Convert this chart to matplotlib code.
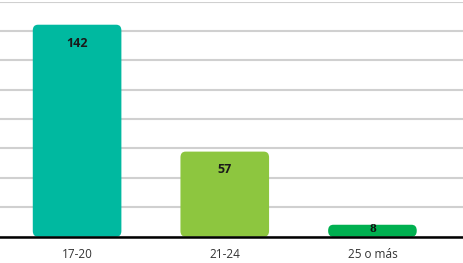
import matplotlib
matplotlib.use("Agg")
import matplotlib.pyplot as plt
from matplotlib.patches import FancyBboxPatch

categories = ["17-20", "21-24", "25 o más"]
values = [142, 57, 8]
colors = ["#00B9A0", "#8DC63F", "#00B050"]
yticks = [0, 19.7, 39.4, 59.1, 78.8, 98.4, 118.1, 137.8, 157.5]

plt.rcParams['font.family'] = ['Open Sans', 'DejaVu Sans']
fig = plt.figure(figsize=(4.64, 2.63), dpi=100)
ax = fig.add_axes([0, 0.1, 1, 0.894])
ax.set_xlim(-0.522, 2.62)
ax.set_ylim(0, 157.5)

bars = ax.bar(range(len(values)), values, width=0.6, color=colors, zorder=2)
for b, c in zip(bars, colors):
    x, y = b.get_x(), b.get_y()
    w, h = b.get_width(), b.get_height()
    b.set_visible(False)
    p = FancyBboxPatch((x, y), w, h,
                       boxstyle="round,pad=0,rounding_size=0.035",
                       mutation_aspect=110, facecolor=c, edgecolor='none', zorder=2)
    ax.add_patch(p)

label_offsets_px = [-19, -17.5, None]
for i, v in enumerate(values):
    if label_offsets_px[i] is not None:
        ax.annotate(str(v), (i, v), xytext=(0, label_offsets_px[i] * 0.72),
                    textcoords='offset points', ha='center', va='center',
                    fontsize=9, fontweight='bold', color='#1a1a1a', zorder=3)
    else:
        ax.annotate(str(v), (i, 0), xytext=(0, 8 * 0.72),
                    textcoords='offset points', ha='center', va='center',
                    fontsize=9.5, fontweight='bold', color='#111111', zorder=3,
                    family=['Liberation Serif', 'DejaVu Serif'])

ax.set_yticks(yticks)
ax.yaxis.grid(True, color='#d0d0d0', linewidth=1.5, zorder=0)
ax.set_axisbelow(True)
ax.tick_params(axis='y', left=False, labelleft=False)
ax.set_xticks(range(len(categories)))
ax.set_xticklabels(categories, fontsize=8.5, color='#333333')
ax.tick_params(axis='x', length=0, pad=8)
for s in ['top', 'right', 'left']:
    ax.spines[s].set_visible(False)
ax.spines['bottom'].set_color('black')
ax.spines['bottom'].set_linewidth(1.8)
ax.spines['bottom'].set_zorder(4)

fig.savefig("out.png", dpi=100)
